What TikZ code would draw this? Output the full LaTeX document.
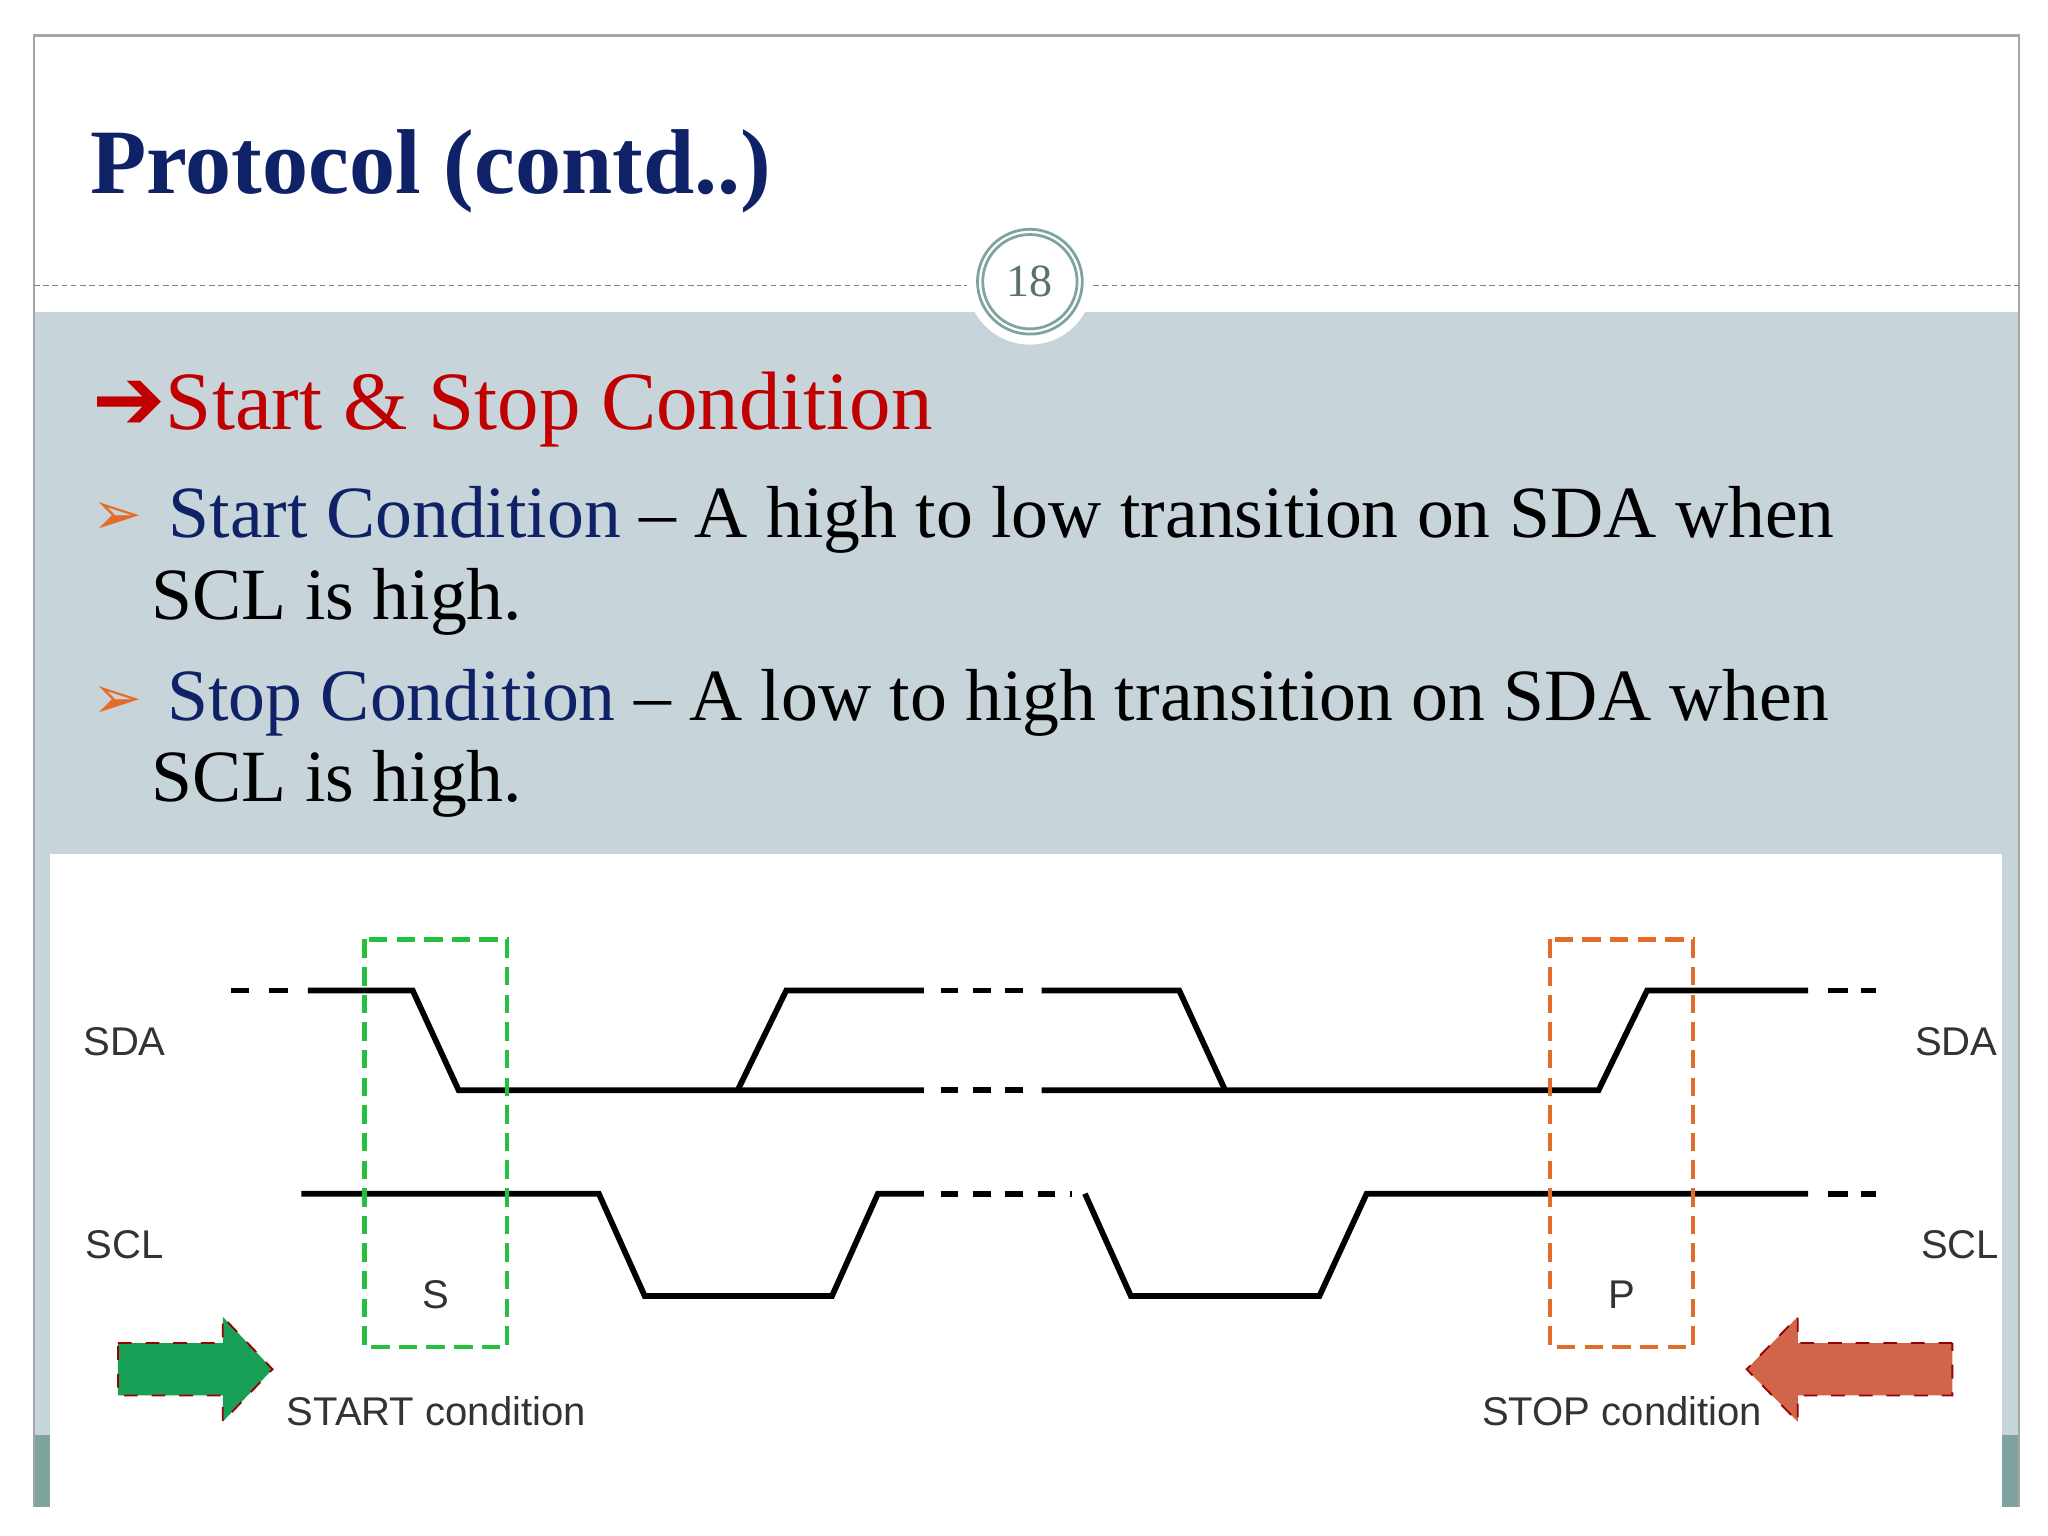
\documentclass[tikz,border=0pt]{standalone}
\usepackage{fontspec}
\setmainfont{Liberation Serif}
\setsansfont{Liberation Sans}
\newfontfamily\symf{DejaVu Sans}
\definecolor{navy}{HTML}{0F2167}
\definecolor{panel}{HTML}{C7D4D9}
\definecolor{teal}{HTML}{7FA39F}
\definecolor{redh}{HTML}{C00000}
\definecolor{orng}{HTML}{E46C2A}
\definecolor{grn}{HTML}{00B050}
\definecolor{rarr}{HTML}{D0654A}
\tikzset{sig/.style={line width=1.25pt,black},
 dsh/.style={sig,dash pattern=on 3.8pt off 3.2pt},
 lbl/.style={font=\sffamily\fontsize{8.7}{10}\selectfont,text=black!80},
 body/.style={anchor=base west,font=\fontsize{16}{19}\selectfont,inner sep=0}}
\begin{document}
\begin{tikzpicture}[x=0.1mm,y=-0.1mm]
\useasboundingbox (0,0) rectangle (1563,1172);
\fill[white] (0,0) rectangle (1563,1172);
\fill[panel] (26,238) rectangle (1541,1150);
\fill[teal] (26,1095) rectangle (38,1150);
\fill[teal] (1528,1095) rectangle (1541,1150);
\draw[gray!70,line width=0.5pt] (26,1150) -- (26,27) -- (1541,27) -- (1541,1150);
\draw[gray,dash pattern=on 1.2pt off 0.8pt,line width=0.3pt] (26,218) -- (1541,218);
\fill[white] (786,215) circle (48);
\draw[teal,line width=0.6pt] (786,215) circle (40) (786,215) circle (36);
\node[inner sep=0,font=\fontsize{10}{12}\selectfont,text=teal!70!black] (pg) at (786,215) {18};
\node[anchor=base west,inner sep=0,font=\bfseries\fontsize{20}{24}\selectfont,text=navy] (title) at (68,148) {Protocol (contd..)};
\node[anchor=base west,inner sep=0,font=\fontsize{18}{22}\selectfont,text=redh] (hd) at (70,328) {{\symf\bfseries\fontsize{19}{20}\selectfont ➔}Start \& Stop Condition};
\node[body,text=orng] (b1) at (70,408) {\symf\fontsize{13}{14}\selectfont ➢};
\node[body] (t1) at (128,410) {\textcolor{navy}{Start Condition} – A high to low transition on SDA when};
\node[body] (t1b) at (115,473) {SCL is high.};
\node[body,text=orng] (b2) at (70,548) {\symf\fontsize{13}{14}\selectfont ➢};
\node[body] (t2) at (127,550) {\textcolor{navy}{Stop Condition} – A low to high transition on SDA when};
\node[body] (t2b) at (115,612) {SCL is high.};
\fill[white] (38,652) rectangle (1528,1150);
% SDA
\draw[sig] (176,756)--(190,756) (205,756)--(220,756);
\draw[sig] (235,756)--(315,756)--(350,832)--(705,832);
\draw[sig] (563,832)--(600,756)--(705,756);
\draw[dsh] (718,756)--(790,756) (718,832)--(790,832);
\draw[sig] (795,756)--(900,756)--(935,832);
\draw[sig] (795,832)--(1220,832)--(1257,756)--(1380,756);
\draw[sig] (1395,756)--(1410,756) (1420,756)--(1432,756);
% SCL
\draw[sig] (230,911)--(457,911)--(492,989)--(635,989)--(670,911)--(705,911);
\draw[dsh] (718,911)--(818,911);
\draw[sig] (828,911)--(863,989)--(1007,989)--(1043,911)--(1380,911);
\draw[sig] (1395,911)--(1410,911) (1420,911)--(1432,911);
% boxes
\draw[grn!80!lime,line width=1pt,dash pattern=on 4pt off 2pt] (278,717) rectangle (387,1028);
\draw[orng,line width=1pt,dash pattern=on 4pt off 2pt] (1183,717) rectangle (1292,1028);
\node[lbl] (sdal) at (95,795) {SDA};
\node[lbl] (scll) at (95,950) {SCL};
\node[lbl] (sdar) at (1493,795) {SDA};
\node[lbl] (sclr) at (1496,950) {SCL};
\node[lbl] (S) at (333,988) {S};
\node[lbl] (P) at (1238,988) {P};
\node[lbl] (st) at (333,1077) {START condition};
\node[lbl] (sp) at (1238,1077) {STOP condition};
\fill[grn!85!black!90] (90,1025)--(170,1025)--(170,1005)--(208,1045)--(170,1085)--(170,1065)--(90,1065)--cycle;
\draw[red!60!black,dashed,line width=0.4pt] (90,1025)--(170,1025)--(170,1005)--(208,1045)--(170,1085)--(170,1065)--(90,1065)--cycle;
\fill[rarr] (1490,1025)--(1372,1025)--(1372,1005)--(1333,1045)--(1372,1085)--(1372,1065)--(1490,1065)--cycle;
\draw[red!60!black,dashed,line width=0.4pt] (1490,1025)--(1372,1025)--(1372,1005)--(1333,1045)--(1372,1085)--(1372,1065)--(1490,1065)--cycle;
\end{tikzpicture}
\end{document}
